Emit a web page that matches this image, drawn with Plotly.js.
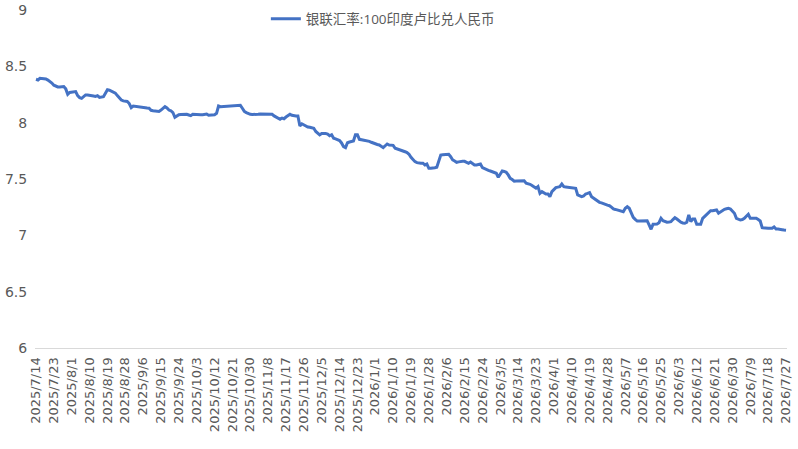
<!DOCTYPE html>
<html>
<head>
<meta charset="utf-8">
<script src="https://cdn.plot.ly/plotly-3.0.1.min.js"></script>
<style>html,body{margin:0;padding:0;background:#fff;}#chart{width:798px;height:449px;}</style>
</head>
<body>
<div id="chart"></div>
<script>
// Series name
const seriesName = "银联汇率:100印度卢比兑人民币";
// First date of the daily series (calendar days)
const startDate = [2025, 7, 14];
// Daily values (rows of 9 days each, matching the tick step)
const rates = [
  8.385, 8.379, 8.394, 8.392, 8.389, 8.388, 8.378, 8.368, 8.352,
  8.333, 8.322, 8.317, 8.316, 8.317, 8.321, 8.300, 8.252, 8.268,
  8.273, 8.275, 8.276, 8.240, 8.222, 8.216, 8.228, 8.246, 8.246,
  8.245, 8.240, 8.237, 8.233, 8.240, 8.224, 8.225, 8.231, 8.262,
  8.293, 8.288, 8.281, 8.272, 8.262, 8.240, 8.215, 8.201, 8.193,
  8.192, 8.188, 8.170, 8.134, 8.148, 8.145, 8.142, 8.138, 8.133,
  8.133, 8.133, 8.130, 8.128, 8.110, 8.106, 8.104, 8.108, 8.100,
  8.112, 8.128, 8.142, 8.130, 8.112, 8.106, 8.090, 8.048, 8.060,
  8.071, 8.073, 8.074, 8.074, 8.074, 8.068, 8.062, 8.074, 8.072,
  8.071, 8.071, 8.071, 8.071, 8.075, 8.077, 8.066, 8.068, 8.070,
  8.071, 8.083, 8.148, 8.142, 8.143, 8.145, 8.145, 8.145, 8.145,
  8.148, 8.152, 8.154, 8.154, 8.154, 8.128, 8.100, 8.089, 8.080,
  8.074, 8.073, 8.072, 8.071, 8.074, 8.077, 8.077, 8.077, 8.077,
  8.077, 8.076, 8.074, 8.060, 8.048, 8.036, 8.030, 8.041, 8.035,
  8.050, 8.063, 8.074, 8.065, 8.059, 8.059, 8.059, 7.971, 7.990,
  7.980, 7.966, 7.962, 7.959, 7.954, 7.950, 7.922, 7.905, 7.892,
  7.903, 7.906, 7.903, 7.899, 7.884, 7.893, 7.862, 7.856, 7.850,
  7.841, 7.820, 7.787, 7.778, 7.822, 7.828, 7.833, 7.837, 7.893,
  7.893, 7.852, 7.849, 7.846, 7.843, 7.840, 7.834, 7.826, 7.818,
  7.811, 7.806, 7.802, 7.790, 7.778, 7.795, 7.811, 7.802, 7.800,
  7.799, 7.773, 7.768, 7.764, 7.755, 7.748, 7.742, 7.734, 7.720,
  7.693, 7.672, 7.654, 7.645, 7.640, 7.640, 7.640, 7.625, 7.633,
  7.595, 7.595, 7.595, 7.600, 7.604, 7.663, 7.713, 7.716, 7.719,
  7.719, 7.719, 7.698, 7.669, 7.660, 7.648, 7.652, 7.657, 7.657,
  7.657, 7.648, 7.640, 7.651, 7.638, 7.625, 7.625, 7.630, 7.633,
  7.601, 7.592, 7.580, 7.576, 7.571, 7.566, 7.560, 7.551, 7.515,
  7.540, 7.571, 7.567, 7.560, 7.536, 7.506, 7.495, 7.480, 7.483,
  7.485, 7.485, 7.485, 7.485, 7.462, 7.458, 7.453, 7.443, 7.432,
  7.418, 7.432, 7.373, 7.388, 7.375, 7.367, 7.367, 7.343, 7.388,
  7.405, 7.423, 7.428, 7.432, 7.456, 7.432, 7.430, 7.427, 7.422,
  7.418, 7.418, 7.418, 7.358, 7.350, 7.343, 7.349, 7.367, 7.372,
  7.379, 7.343, 7.330, 7.314, 7.300, 7.293, 7.288, 7.284, 7.275,
  7.268, 7.263, 7.250, 7.234, 7.230, 7.225, 7.219, 7.215, 7.210,
  7.240, 7.254, 7.240, 7.196, 7.160, 7.142, 7.127, 7.128, 7.130,
  7.130, 7.130, 7.130, 7.092, 7.054, 7.098, 7.100, 7.101, 7.112,
  7.151, 7.130, 7.121, 7.116, 7.118, 7.121, 7.140, 7.157, 7.145,
  7.130, 7.116, 7.110, 7.107, 7.116, 7.181, 7.121, 7.145, 7.145,
  7.098, 7.098, 7.098, 7.151, 7.170, 7.187, 7.205, 7.219, 7.219,
  7.219, 7.225, 7.196, 7.210, 7.220, 7.231, 7.236, 7.240, 7.234,
  7.215, 7.196, 7.151, 7.140, 7.136, 7.140, 7.151, 7.170, 7.187,
  7.151, 7.151, 7.151, 7.151, 7.140, 7.127, 7.068, 7.064, 7.062,
  7.062, 7.062, 7.062, 7.074, 7.056, 7.056, 7.056, 7.050, 7.047,
  7.045
];
// Tick step in days and y ticks
const tickStepDays = 9;
const yTicks = [6, 6.5, 7, 7.5, 8, 8.5, 9];
const yTickText = ["6", "6.5", "7", "7.5", "8", "8.5", "9"];

// Build date category labels
const dates = [];
const d0 = new Date(Date.UTC(startDate[0], startDate[1] - 1, startDate[2]));
for (let i = 0; i < rates.length; i++) {
  const d = new Date(d0.getTime() + i * 86400000);
  dates.push(d.getUTCFullYear() + "/" + (d.getUTCMonth() + 1) + "/" + d.getUTCDate());
}
const tickVals = dates.filter((_, i) => i % tickStepDays === 0);

const font = "'Open Sans', 'Noto Sans CJK SC', sans-serif";
const tickFont = "'DejaVu Sans', sans-serif";
Plotly.newPlot("chart", [{
  x: dates, y: rates, type: "scatter", mode: "lines", name: seriesName,
  line: {color: "#4472C4", width: 3}
}], {
  width: 798, height: 449,
  margin: {l: 35, r: 11, t: 10, b: 101, autoexpand: false},
  paper_bgcolor: "#fff", plot_bgcolor: "#fff",
  font: {family: font, color: "#595959", size: 13},
  showlegend: true,
  legend: {orientation: "h", x: 0.307, xanchor: "left", xref: "paper",
           y: 0.992, yanchor: "top", yref: "container",
           font: {family: font, size: 13.5, color: "#595959"}, bgcolor: "rgba(0,0,0,0)"},
  xaxis: {type: "category", range: [-0.5, rates.length - 0.5], automargin: false,
          tickmode: "array", tickvals: tickVals, ticktext: tickVals,
          tickangle: -90, showgrid: false, zeroline: false,
          showline: true, linecolor: "#d9d9d9", linewidth: 1,
          ticks: "outside", ticklen: 3, tickcolor: "rgba(0,0,0,0)",
          tickfont: {family: tickFont, size: 13, color: "#595959"}},
  yaxis: {range: [6, 9], tickmode: "array", tickvals: yTicks, ticktext: yTickText, automargin: false,
          showgrid: false, zeroline: false, showline: false, ticklabeloverflow: "allow",
          ticks: "outside", ticklen: 4, tickcolor: "rgba(0,0,0,0)",
          tickfont: {family: tickFont, size: 14, color: "#595959"}}
}, {staticPlot: true});
</script>
</body>
</html>
